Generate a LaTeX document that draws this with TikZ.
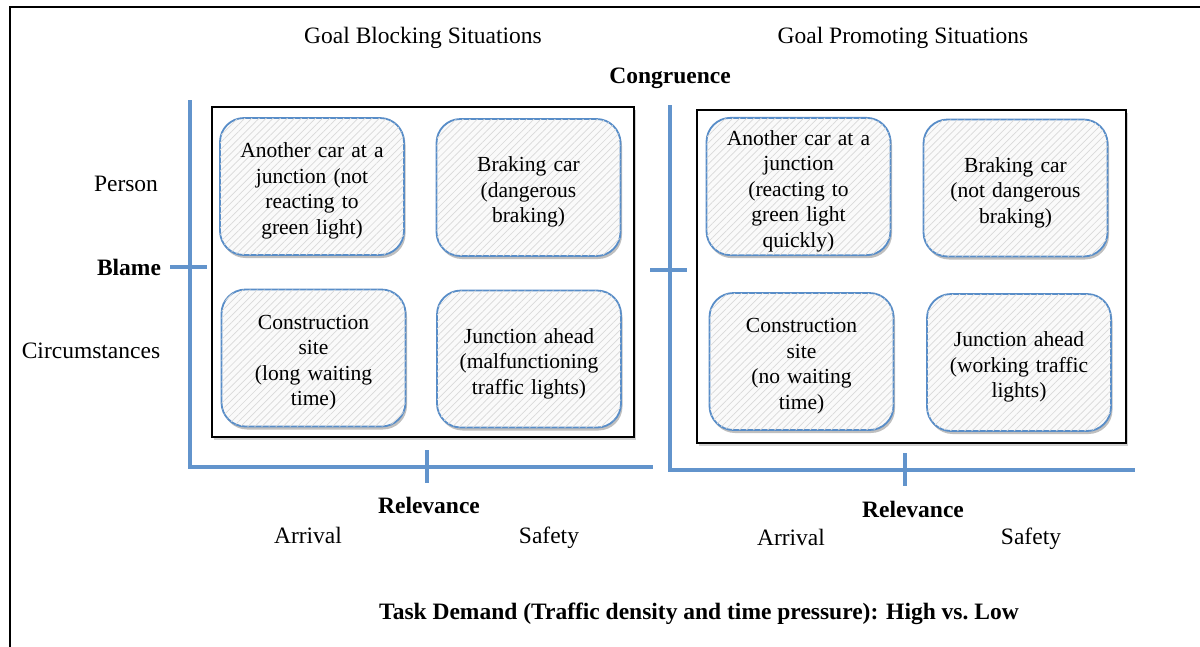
\documentclass[tikz,border=0pt]{standalone}
\usepackage{fontspec}
\setmainfont{Liberation Serif}
\usetikzlibrary{patterns.meta,shadows}
\definecolor{axisblue}{RGB}{98,148,204}
\definecolor{boxblue}{RGB}{88,141,200}
\tikzset{
  situation/.style={draw=boxblue, line width=1.8pt, rounded corners=24pt,
    fill=gray!4, minimum width=184pt, minimum height=137pt,
    text width=176pt, align=center, text height=24pt,
    font=\fontsize{21.5}{25.5}\selectfont,
    postaction={pattern={Lines[angle=45,distance=5pt,line width=0.7pt]}, pattern color=gray!30},
    drop shadow={shadow xshift=1.5pt, shadow yshift=-3pt, opacity=0.25, fill=black}},
  panel/.style={draw=black, line width=1.8pt, fill=white,
    drop shadow={shadow xshift=2pt, shadow yshift=-3pt, opacity=0.18, fill=black}},
  axis/.style={draw=axisblue, line width=3.5pt},
  label/.style={font=\fontsize{23.5}{28}\selectfont, inner sep=0pt},
  heading/.style={label, font=\fontsize{23.5}{28}\selectfont\bfseries}
}
\begin{document}
\begin{tikzpicture}[x=1pt,y=-1pt]
\useasboundingbox (0,0) rectangle (1200,646);
\fill[white] (0,0) rectangle (1200,646);

% outer frame
\draw[line width=2pt, drop shadow={shadow xshift=1pt, shadow yshift=-2pt, opacity=0.15, fill=black}, fill=white] (10,7) rectangle (1220,670);

% column headings
\node[label] (hblock) at (423,38) {Goal Blocking Situations};
\node[label] (hpromo) at (903,38) {Goal Promoting Situations};
\node[heading] (congr) at (670,78) {Congruence};

% left panel axes
\draw[axis] (190,100) -- (190,467) -- (653,467);
\draw[axis] (427,450) -- (427,483);
\draw[axis] (170,267) -- (207,267);

% right panel axes
\draw[axis] (670,105) -- (670,470) -- (1135,470);
\draw[axis] (905,453) -- (905,486);
\draw[axis] (650,270) -- (687,270);

% panels
\node[panel, minimum width=422pt, minimum height=330pt] (lpanel) at (423,272) {};
\node[panel, minimum width=429pt, minimum height=333pt] (rpanel) at (911.5,276.5) {};

% goal blocking situations
\node[situation] (a1) at (312,186.5) {Another car at a\\junction (not\\reacting to\\green light)};
\node[situation] (a2) at (528.5,187.5) {Braking car\\(dangerous\\braking)};
\node[situation] (a3) at (313.5,358) {Construction\\site\\(long waiting\\time)};
\node[situation] (a4) at (529,359) {Junction ahead\\(malfunctioning\\traffic lights)};

% goal promoting situations
\node[situation] (b1) at (798.5,186.5) {Another car at a\\junction\\(reacting to\\green light\\quickly)};
\node[situation] (b2) at (1015.5,188) {Braking car\\(not dangerous\\braking)};
\node[situation] (b3) at (801.5,361.5) {Construction\\site\\(no waiting\\time)};
\node[situation] (b4) at (1019,362.5) {Junction ahead\\(working traffic\\lights)};

% blame axis labels
\node[label] (person) at (126,184) {Person};
\node[heading] (blame) at (129,267) {Blame};
\node[label] (circ) at (91,351) {Circumstances};

% relevance axis labels
\node[heading] (rel1) at (429,505) {Relevance};
\node[label] (arr1) at (308,535) {Arrival};
\node[label] (saf1) at (549,538) {Safety};
\node[heading] (rel2) at (913,509) {Relevance};
\node[label] (arr2) at (791,537) {Arrival};
\node[label] (saf2) at (1031,539) {Safety};

% task demand
\node[heading] (task) at (699,614) {Task Demand (Traffic density and time pressure): High vs.~Low};
\end{tikzpicture}
\end{document}
